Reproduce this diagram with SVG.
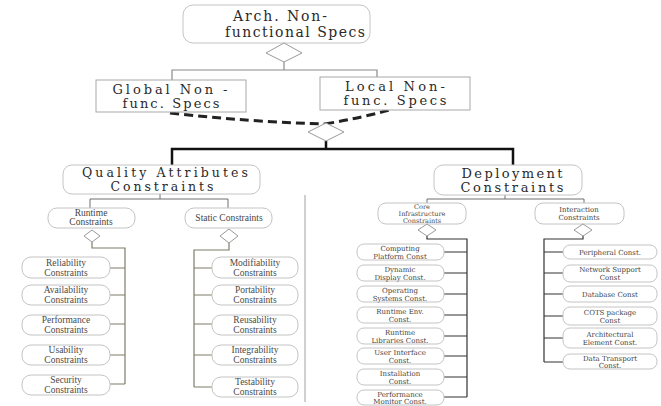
<svg xmlns="http://www.w3.org/2000/svg" width="661" height="406" viewBox="0 0 661 406">
<style>
.bg{fill:#fff}
.rbox{fill:#fff;stroke:#c4c4c4;stroke-width:1}
.sbox{fill:#fff;stroke:#a8a8a8;stroke-width:1}
.dia{fill:#fff;stroke:#9a9a9a;stroke-width:1}
.big{font-family:"DejaVu Serif","Liberation Serif",serif;font-size:14px;fill:#2a2a2a;text-anchor:middle}
.b13{font-size:13px}
.b12{font-size:12.5px}
.mid{font-family:"Liberation Serif","DejaVu Serif",serif;font-size:9.5px;fill:#444;text-anchor:middle}
.lf{font-family:"Liberation Serif","DejaVu Serif",serif;font-size:9.5px;fill:#4a4a4a;text-anchor:middle}
.sm{font-family:"DejaVu Serif","Liberation Serif",serif;font-size:7px;fill:#444;text-anchor:middle}
.thin{fill:none;stroke:#8a8a8a;stroke-width:1.2}
.thick{fill:none;stroke:#111;stroke-width:2.5}
.dash{fill:none;stroke:#222;stroke-width:3;stroke-dasharray:9 5}
.gl{fill:none;stroke:#6f6f6f;stroke-width:1}
.ol{fill:none;stroke:#7d7d6a;stroke-width:1.2}
.dk{fill:none;stroke:#333;stroke-width:1.2}
.sep{fill:none;stroke:#a0a0a0;stroke-width:1}
</style>
<rect class="bg" x="0" y="0" width="661" height="406"/>
<g id="connectors">
  <path class="thin" d="M284,62 V70 M172,80 V70 H377 V77"/>
  <path class="dash" d="M170,113 Q250,122 325,124"/>
  <path class="dash" d="M325,124 Q360,118 390,110"/>
  <path class="thick" d="M326,141 V149 M172,165 V149 H513 V165"/>
  <path class="gl" d="M160,194 V199 M90,208 V199 H228 V208"/>
  <path class="ol" d="M92,242 V248 H125 V384 M110,268 H125 M110,295 H125 M110,324 H125 M110,355 H125 M110,384 H125"/>
  <path class="ol" d="M229,243 V250 H194 V387 M194,268 H212 M194,295 H212 M194,324 H212 M194,355 H212 M194,387 H212"/>
  <path class="gl" d="M505,195 V199 M427,203 V199 H584 V203"/>
  <path class="dk" d="M427,236 V239 H467 V397 M444,252 H467 M444,273 H467 M444,294 H467 M444,315 H467 M444,336 H467 M444,356 H467 M444,377 H467 M444,397 H467"/>
  <path class="dk" d="M583,236 V239 H544 V362 M544,252 H563 M544,273 H563 M544,294 H563 M544,316 H563 M544,338 H563 M544,362 H563"/>
  <path class="sep" d="M305,195 V402"/>
</g>
<g id="arch">
  <rect class="rbox" x="183" y="5" width="187" height="38" rx="10"/>
  <text class="big" x="280" y="21" textLength="94" lengthAdjust="spacing">Arch. Non-</text>
  <text class="big" x="295" y="37" textLength="140" lengthAdjust="spacing">functional Specs</text>
  <polygon class="dia" points="284,43 302,53 284,62 266,53"/>
</g>
<g id="global">
  <rect class="sbox" x="96" y="80" width="150" height="32"/>
  <text class="big b13" x="170" y="94" textLength="115" lengthAdjust="spacing">Global Non -</text>
  <text class="big b13" x="171" y="108" textLength="97" lengthAdjust="spacing">func. Specs</text>
</g>
<g id="local">
  <rect class="sbox" x="320" y="77" width="150" height="33"/>
  <text class="big b13" x="395" y="91" textLength="100" lengthAdjust="spacing">Local Non-</text>
  <text class="big b13" x="395" y="105" textLength="103" lengthAdjust="spacing">func. Specs</text>
</g>
<g id="merge">
  <polygon class="dia" points="326,123 344,132 326,141 308,132"/>
</g>
<g id="quality">
  <rect class="rbox" x="63" y="165" width="197" height="29" rx="9"/>
  <text class="big b12" x="165" y="177" textLength="166" lengthAdjust="spacing">Quality Attributes</text>
  <text class="big b12" x="162" y="190.5" textLength="103" lengthAdjust="spacing">Constraints</text>
</g>
<g id="deployment">
  <rect class="rbox" x="434" y="165" width="148" height="30" rx="9"/>
  <text class="big b13" x="512" y="178" textLength="101" lengthAdjust="spacing">Deployment</text>
  <text class="big b13" x="512" y="192" textLength="103" lengthAdjust="spacing">Constraints</text>
</g>
<g id="runtime">
  <rect class="rbox" x="48" y="208" width="87" height="20" rx="9"/>
  <text class="mid" x="91" y="216">Runtime</text>
  <text class="mid" x="91" y="225">Constraints</text>
  <polygon class="dia" points="92,230 100,236 92,242 84,236"/>
</g>
<g id="static">
  <rect class="rbox" x="185" y="208" width="87" height="20" rx="9"/>
  <text class="mid" x="229" y="221">Static Constraints</text>
  <polygon class="dia" points="229,229 238,236 229,243 220,236"/>
</g>
<g id="reliability"><rect class="rbox" x="22" y="257" width="88" height="21" rx="9"/><text class="lf" x="66" y="266">Reliability</text><text class="lf" x="66" y="276">Constraints</text></g>
<g id="availability"><rect class="rbox" x="22" y="285" width="88" height="20" rx="9"/><text class="lf" x="66" y="293">Availability</text><text class="lf" x="66" y="303">Constraints</text></g>
<g id="performance"><rect class="rbox" x="22" y="315" width="88" height="20" rx="9"/><text class="lf" x="66" y="323">Performance</text><text class="lf" x="66" y="333">Constraints</text></g>
<g id="usability"><rect class="rbox" x="22" y="345" width="88" height="20" rx="9"/><text class="lf" x="66" y="353">Usability</text><text class="lf" x="66" y="363">Constraints</text></g>
<g id="security"><rect class="rbox" x="22" y="375" width="88" height="20" rx="9"/><text class="lf" x="66" y="383">Security</text><text class="lf" x="66" y="393">Constraints</text></g>
<g id="modifiability"><rect class="rbox" x="212" y="257" width="86" height="21" rx="9"/><text class="lf" x="255" y="266">Modifiability</text><text class="lf" x="255" y="276">Constraints</text></g>
<g id="portability"><rect class="rbox" x="212" y="285" width="86" height="20" rx="9"/><text class="lf" x="255" y="293">Portability</text><text class="lf" x="255" y="303">Constraints</text></g>
<g id="reusability"><rect class="rbox" x="212" y="315" width="86" height="20" rx="9"/><text class="lf" x="255" y="323">Reusability</text><text class="lf" x="255" y="333">Constraints</text></g>
<g id="integrability"><rect class="rbox" x="212" y="345" width="86" height="20" rx="9"/><text class="lf" x="255" y="353">Integrability</text><text class="lf" x="255" y="363">Constraints</text></g>
<g id="testability"><rect class="rbox" x="212" y="377" width="86" height="20" rx="9"/><text class="lf" x="255" y="385">Testability</text><text class="lf" x="255" y="395">Constraints</text></g>
<g id="core">
  <rect class="rbox" x="378" y="203" width="88" height="21" rx="8"/>
  <text class="sm" x="422" y="209" style="font-size:6.5px">Core</text>
  <text class="sm" x="422" y="216" style="font-size:6.5px">Infrastructure</text>
  <text class="sm" x="422" y="223" style="font-size:6.5px">Constraints</text>
  <polygon class="dia" points="427,224 436,230 427,236 418,230"/>
</g>
<g id="interaction">
  <rect class="rbox" x="535" y="203" width="89" height="21" rx="8"/>
  <text class="sm" x="579" y="212">Interaction</text>
  <text class="sm" x="579" y="220">Constraints</text>
  <polygon class="dia" points="583,224 592,230 583,236 574,230"/>
</g>
<g id="computing"><rect class="rbox" x="357" y="244" width="87" height="16" rx="7"/><text class="sm" x="400" y="251">Computing</text><text class="sm" x="400" y="258.5">Platform Const</text></g>
<g id="dynamic"><rect class="rbox" x="357" y="265" width="87" height="16" rx="7"/><text class="sm" x="400" y="272">Dynamic</text><text class="sm" x="400" y="279.5">Display Const.</text></g>
<g id="operating"><rect class="rbox" x="357" y="286" width="87" height="16" rx="7"/><text class="sm" x="400" y="293">Operating</text><text class="sm" x="400" y="300.5">Systems Const.</text></g>
<g id="runtimeenv"><rect class="rbox" x="357" y="307" width="87" height="16" rx="7"/><text class="sm" x="400" y="314">Runtime Env.</text><text class="sm" x="400" y="321.5">Const.</text></g>
<g id="runtimelib"><rect class="rbox" x="357" y="328" width="87" height="16" rx="7"/><text class="sm" x="400" y="335">Runtime</text><text class="sm" x="400" y="342.5">Libraries Const.</text></g>
<g id="userinterface"><rect class="rbox" x="357" y="348" width="87" height="16" rx="7"/><text class="sm" x="400" y="355">User Interface</text><text class="sm" x="400" y="362.5">Const.</text></g>
<g id="installation"><rect class="rbox" x="357" y="369" width="87" height="16" rx="7"/><text class="sm" x="400" y="376">Installation</text><text class="sm" x="400" y="383.5">Const.</text></g>
<g id="perfmonitor"><rect class="rbox" x="357" y="390" width="87" height="15" rx="7"/><text class="sm" x="400" y="396.5">Performance</text><text class="sm" x="400" y="404">Monitor Const.</text></g>
<g id="peripheral"><rect class="rbox" x="563" y="245" width="94" height="14" rx="7"/><text class="sm" x="610" y="254.5">Peripheral Const.</text></g>
<g id="network"><rect class="rbox" x="563" y="265" width="94" height="17" rx="7"/><text class="sm" x="610" y="272">Network Support</text><text class="sm" x="610" y="280">Const</text></g>
<g id="database"><rect class="rbox" x="563" y="286" width="94" height="16" rx="7"/><text class="sm" x="610" y="296.5">Database Const</text></g>
<g id="cots"><rect class="rbox" x="563" y="307" width="94" height="18" rx="7"/><text class="sm" x="610" y="314.5">COTS package</text><text class="sm" x="610" y="322.5">Const</text></g>
<g id="architectural"><rect class="rbox" x="563" y="328" width="94" height="20" rx="7"/><text class="sm" x="610" y="336.5">Architectural</text><text class="sm" x="610" y="345">Element Const.</text></g>
<g id="datatransport"><rect class="rbox" x="563" y="354" width="94" height="15" rx="7"/><text class="sm" x="610" y="360.5">Data Transport</text><text class="sm" x="610" y="367.5">Const.</text></g>
</svg>
